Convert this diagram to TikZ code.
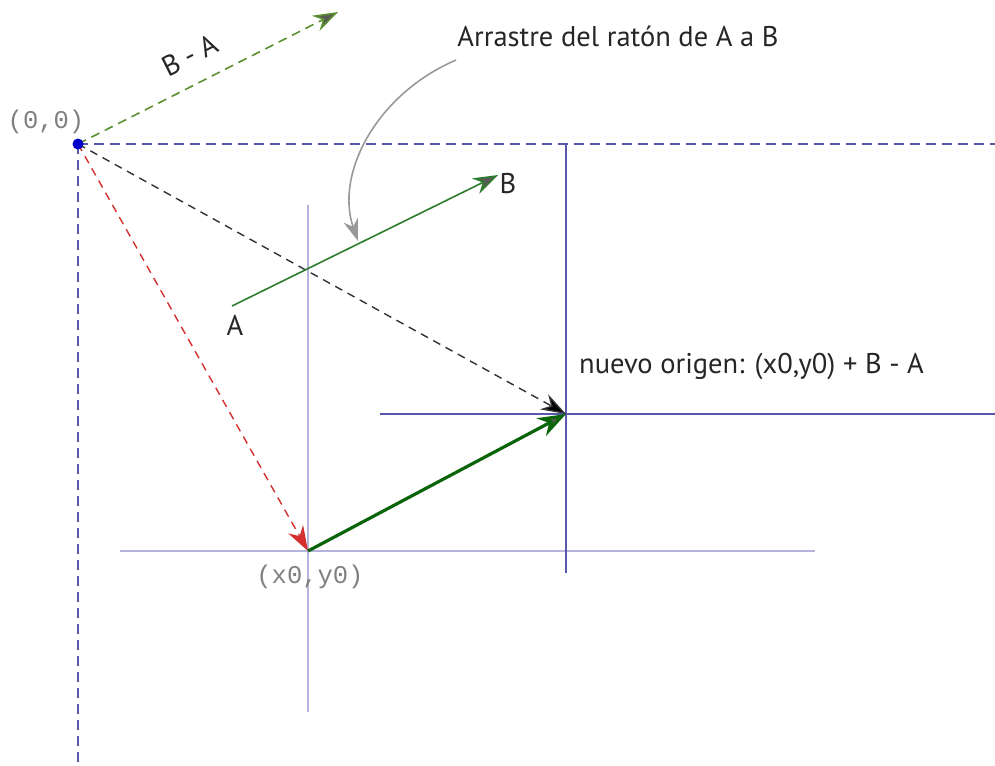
\documentclass[tikz,border=0pt]{standalone}
\usepackage{fontspec}
\setmainfont{PT Sans}
\setmonofont{Liberation Mono}
\usetikzlibrary{arrows.meta}
\definecolor{axisblue}{HTML}{5858A8}
\definecolor{lightaxis}{HTML}{B4B4DC}
\definecolor{dgreen}{HTML}{0A640A}
\definecolor{mgreen}{HTML}{2E7D2E}
\definecolor{lgreen}{HTML}{5A9030}
\definecolor{redd}{HTML}{D43030}
\definecolor{labgray}{HTML}{808080}
\tikzset{
  dashaxis/.style={axisblue, line width=1.4pt, dash pattern=on 10pt off 6pt},
  lightline/.style={lightaxis, line width=1.4pt},
  darkline/.style={axisblue, line width=1.4pt},
  tip/.style={-{Stealth[length=25pt,width=17pt,inset=8pt,fill=#1]}},
  lbl/.style={font=\fontsize{28.5}{33}\selectfont, text=black!85, inner sep=1pt},
  mono/.style={font=\ttfamily\fontsize{25.5}{30}\selectfont, text=labgray, inner sep=1pt}
}
\begin{document}
\begin{tikzpicture}[x=1pt,y=-1pt]
\useasboundingbox (0,0) rectangle (995,765);
% points
\coordinate (O) at (78,144);
\coordinate (Oright) at (995,144);
\coordinate (Odown) at (78,765);
\coordinate (X0) at (308,551);
\coordinate (N) at (566,414);
\coordinate (A) at (232,306);
\coordinate (B) at (498,175);
\coordinate (BA) at (338,12);
% light axes through (x0,y0)
\coordinate (L1) at (308,205);
\coordinate (L2) at (308,712);
\coordinate (L3) at (120,551);
\coordinate (L4) at (815,551);
\draw[lightline] (L1) -- (L2);
\draw[lightline] (L3) -- (L4);
% new-origin axes
\coordinate (D1) at (566,144);
\coordinate (D2) at (566,573);
\coordinate (D3) at (380,414);
\coordinate (D4) at (995,414);
\draw[darkline] (D1) -- (D2);
\draw[darkline] (D3) -- (D4);
% dashed axes at origin
\draw[dashaxis] (O) -- (Oright);
\draw[dashaxis] (O) -- (Odown);
% dashed vectors
\draw[redd, line width=1.4pt, dash pattern=on 8pt off 6pt, tip=redd] (O) -- (X0);
\draw[black!80, line width=1.4pt, dash pattern=on 8pt off 6pt, tip=black] (O) -- (N);
\draw[lgreen, line width=1.6pt, dash pattern=on 9pt off 6pt, tip=gray!70!black] (O) -- (BA);
% A to B
\draw[mgreen, line width=1.6pt, tip=gray!70!black] (A) -- (B);
% thick green
\draw[dgreen, line width=3.2pt, -{Stealth[length=28pt,width=20pt,inset=9pt,fill=gray!70!black]}] (X0) -- (N);
% origin dot
\fill[blue!80!black] (O) circle (5.5pt);
% curved arrow
\coordinate (C1) at (456,60);
\coordinate (C2) at (358,241);
\draw[gray!80, line width=1.6pt, -{Stealth[length=22pt,width=15pt,inset=7pt,fill=gray!80]}] (C1) .. controls (375,95) and (335,175) .. (C2);
% labels
\node[mono] (lO) at (46,122) {(0,0)};
\node[mono] (lX) at (310,577) {(x0,y0)};
\node[lbl] (lA) at (235,325) {A};
\node[lbl] (lB) at (508,184) {B};
\node[lbl, rotate=26.6] (lBA) at (190,55) {B - A};
\node[lbl] (lT) at (618,36) {Arrastre del ratón de A a B};
\node[lbl, anchor=west] (lN) at (578,366) {nuevo origen: (x0,y0) + B - A};
\end{tikzpicture}
\end{document}
